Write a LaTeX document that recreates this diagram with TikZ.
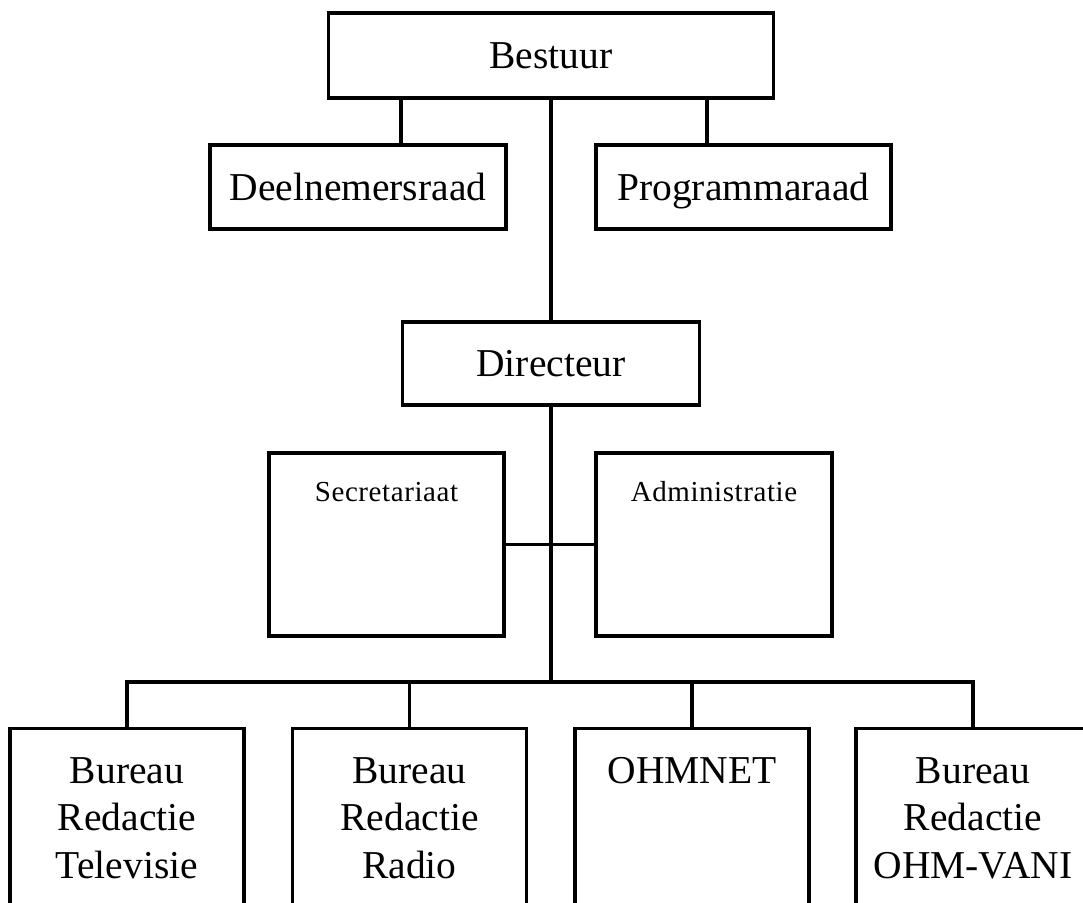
\documentclass[tikz,border=0pt]{standalone}
\usepackage{fontspec}
\setmainfont{Liberation Serif}
\usepackage{tikz}

\begin{document}
\begin{tikzpicture}[x=1pt,y=-1pt,
  box/.style={shape=rectangle, draw=black, line width=3.2pt, inner sep=0pt, text height=26pt, text depth=0pt, font=\fontsize{39.5}{47.5}\selectfont},
  unit/.style={box, minimum width=234pt, minimum height=200pt, anchor=north},
  tag/.style={inner sep=0pt, anchor=north, align=center, font=\fontsize{39.5}{47.5}\selectfont},
  small/.style={inner sep=0pt, anchor=base, font=\fontsize{29}{34}\selectfont\addfontfeature{LetterSpace=2}},
  link/.style={line width=3.2pt}]
\clip (0,0) rectangle (1083,902);

\node[box, minimum width=445pt, minimum height=85pt](bestuur) at (551,55.5) {Bestuur};
\node[box, minimum width=296pt, minimum height=84pt](deel) at (358,187) {Deelnemersraad};
\node[box, minimum width=295pt, minimum height=84pt](prog) at (743.5,187) {Programmaraad};
\node[box, minimum width=297pt, minimum height=83pt](dir) at (551,363.5) {Directeur};
\node[box, minimum width=235pt, minimum height=183pt](sec) at (386.5,544.5) {};
\node[box, minimum width=236pt, minimum height=183pt](adm) at (714,544.5) {};
\node[small](sectxt) at ([yshift=-50pt]sec.north) {Secretariaat};
\node[small](admtxt) at ([yshift=-50pt]adm.north) {Administratie};

\foreach \x/\n/\t in {127/b1/{Bureau\\Redactie\\Televisie}, 409.5/b2/{Bureau\\Redactie\\Radio},
    692/b3/{OHMNET}, 973/b4/{Bureau\\Redactie\\OHM-VANI}}{
  \node[unit](\n) at (\x,727) {};
  \node[tag](\n txt) at ([yshift=-30pt]\n.north) {\t};
}

\coordinate (dl) at (401,0);
\coordinate (pl) at (707,0);
\coordinate (hub) at (551,682);

\draw[link] (dl |- bestuur.south) -- (dl |- deel.north);
\draw[link] (pl |- bestuur.south) -- (pl |- prog.north);
\draw[link] (bestuur.south) -- (dir.north);
\draw[link] (dir.south) -- (hub);
\draw[link] (sec.east) -- (adm.west);
\draw[link] (b1.north) |- (hub) -| (b4.north);
\draw[link] (b2.north) -- (b2.north |- hub);
\draw[link] (b3.north) -- (b3.north |- hub);
\end{tikzpicture}
\end{document}
